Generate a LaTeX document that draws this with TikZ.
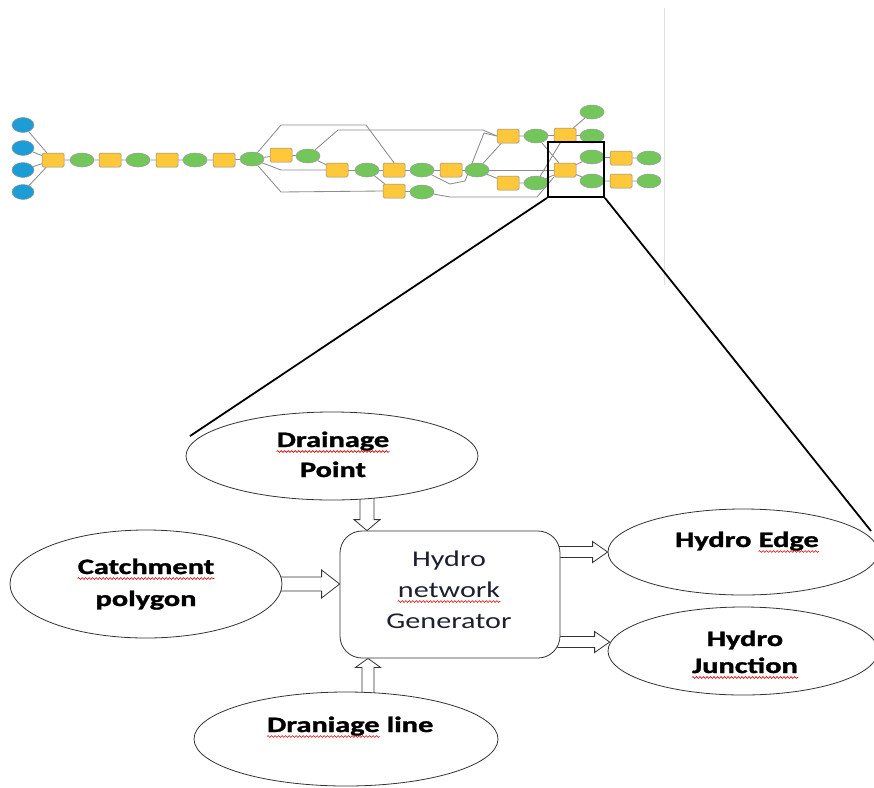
\documentclass[tikz,border=0pt]{standalone}
\usepackage{fontspec}
\setmainfont{Carlito}[BoldFeatures={FakeBold=1.2}]
\usepackage{graphicx}
\usetikzlibrary{shapes.geometric,calc,decorations.pathmorphing}
\pgfdeclarelayer{bg}
\pgfsetlayers{bg,main}
\definecolor{toolc}{HTML}{FFC83A}
\definecolor{datac}{HTML}{72C65A}
\definecolor{srcc}{HTML}{1C9DD6}
\definecolor{gentext}{HTML}{1E2030}
% the labels are set in a horizontally widened face
\newcommand\widebold[1]{\scalebox{1.38}[1]{#1}}
\newcommand\widereg[1]{\scalebox{1.34}[1]{#1}}

\begin{document}
\begin{tikzpicture}[x=1pt,y=-1pt,
  tool/.style={rectangle, rounded corners=1.5pt, draw=black!45, line width=0.5pt, fill=toolc,
    minimum width=22pt, minimum height=14pt, inner sep=0pt},
  data/.style={ellipse, draw=black!40, line width=0.5pt, fill=datac,
    minimum width=24pt, minimum height=14pt, inner sep=0pt},
  src/.style={ellipse, draw=black!40, line width=0.5pt, fill=srcc,
    minimum width=22pt, minimum height=15pt, inner sep=0pt},
  link/.style={draw=black!45, line width=0.85pt},
  big/.style={ellipse, draw=black!80, line width=0.8pt, fill=white, inner sep=0pt},
  lbl/.style={font=\bfseries\fontsize{22}{26}\selectfont, text=black, inner sep=0pt, anchor=base},
  genlbl/.style={font=\fontsize{22.5}{26}\selectfont, text=gentext, inner sep=0pt, anchor=base},
  spell/.style={draw=red!85!black, line width=0.6pt, decorate,
    decoration={snake, amplitude=0.9pt, segment length=3.5pt}},
  blockarrow/.style={draw=black!80, line width=0.8pt, fill=white, line join=miter},
  zoomline/.style={draw=black, line width=1.8pt}
]
\useasboundingbox (0,0) rectangle (874,787);
\begin{pgfonlayer}{bg}
\fill[white] (0,0) rectangle (874,787);
\end{pgfonlayer}

% thin page edge of the model window
\draw[black!12, line width=0.8pt] (664,8) -- (664,285);

% ---------------- processing model ----------------
\node[src] (b1) at (23,125) {};
\node[src] (b2) at (23,148) {};
\node[src] (b3) at (23,170) {};
\node[src] (b4) at (23,192) {};

\node[tool] (t1) at (53,160) {};
\node[data] (d1) at (82,160) {};
\node[tool] (t2) at (110,160) {};
\node[data] (d2) at (138,160) {};
\node[tool] (t3) at (167,160) {};
\node[data] (d3) at (195,160) {};
\node[tool] (t4) at (224,160) {};
\node[data] (d4) at (252,159) {};
\node[tool] (t5) at (281,155) {};
\node[data] (d5) at (308,156) {};
\node[tool] (t6) at (337,170) {};
\node[data] (d6) at (367,170) {};
\node[tool] (t7) at (394,170) {};
\node[data] (d7) at (422,170) {};
\node[tool] (t8) at (451,170) {};
\node[data] (d8) at (477,170) {};
\node[tool] (t9) at (394,191) {};
\node[data] (d9) at (422,192) {};
\node[tool] (t10) at (508,136) {};
\node[tool] (t11) at (508,183) {};
\node[data] (d10) at (536,136) {};
\node[data] (d11) at (536,183) {};
\node[tool] (t12) at (565,135) {};
\node[tool] (t13) at (565,170) {};
\node[data] (d12) at (592,112) {};
\node[data] (d13) at (592,136) {};
\node[data] (d14) at (592,157) {};
\node[data] (d15) at (592,181) {};
\node[tool] (t14) at (621,158) {};
\node[tool] (t15) at (621,181) {};
\node[data] (d16) at (649,158) {};
\node[data] (d17) at (649,181) {};

\begin{pgfonlayer}{bg}
\draw[link] (b1) -- (t1);
\draw[link] (b2) -- (t1);
\draw[link] (b3) -- (t1);
\draw[link] (b4) -- (t1);
\draw[link] (t1) -- (d1) -- (t2) -- (d2) -- (t3) -- (d3) -- (t4) -- (d4) -- (t5) -- (d5);
\draw[link] (d4) -- (281,125) -- (366,125) -- (t7.north);
\draw[link] (d4) -- (281,170) -- (t6.west);
\draw[link] (d4) -- (281,192) -- (t9.west);
\draw[link] (d5) -- (t6);
\draw[link] (d5) -- (338,130) -- (483,130) -- (t10.west);
\draw[link] (t6) -- (d6) -- (t7) -- (d7) -- (t8) -- (d8);
\draw[link] (d6) -- (t9) -- (d9);
\draw[link] (d7) -- (450,184) -- (465,181) -- (484,133) -- (t10.west);
\draw[link] (d8) -- (t10);
\draw[link] (d8) -- (t11) -- (d11);
\draw[link] (d8) -- (t13);
\draw[link] (d9) -- (450,197) -- (537,197) -- (t13.south west);
\draw[link] (t10) -- (d10) -- (t12);
\draw[link] (d10) -- (t13);
\draw[link] (d11) -- (t12);
\draw[link] (d11) -- (t13);
\draw[link] (t12) -- (d12);
\draw[link] (t12) -- (d13);
\draw[link] (t13) -- (d14) -- (t14) -- (d16);
\draw[link] (t13) -- (d15) -- (t15) -- (d17);
\end{pgfonlayer}

% zoom frame
\node[draw=black, line width=1.8pt, minimum width=56pt, minimum height=55pt, inner sep=0pt] (zoom) at (576,169.5) {};

% ---------------- detail view ----------------
\node[big, minimum width=292pt, minimum height=88pt] (dp) at (332,456) {};
\node[big, minimum width=272pt, minimum height=108pt] (cp) at (146,584) {};
\node[draw=black!80, line width=0.8pt, fill=white, rounded corners=22pt,
      minimum width=220pt, minimum height=127pt, inner sep=0pt] (gen) at (450,594.5) {};
\node[big, minimum width=270pt, minimum height=86pt] (he) at (743,552) {};
\node[big, minimum width=270pt, minimum height=88pt] (hj) at (743,651) {};
\node[big, minimum width=304pt, minimum height=94pt] (dl) at (346,739) {};

\node[lbl] (dpA) at (333,447) {\widebold{Drainage}};
\node[lbl] (dpB) at (333,477) {\widebold{Point}};
\node[lbl] (cpA) at (146,574) {\widebold{Catchment}};
\node[lbl] (cpB) at (146,606) {\widebold{polygon}};
\node[genlbl] (gA) at (449,566) {\widereg{Hydro}};
\node[genlbl] (gB) at (449,597) {\widereg{network}};
\node[genlbl] (gC) at (449,628) {\widereg{Generator}};
\node[lbl, anchor=base west] (heA) at (675,547) {\widebold{Hydro}};
\node[lbl, anchor=base west] (heB) at ($(heA.base east)+(6.9,0)$) {\widebold{Edge}};
\node[lbl] (hjA) at (745,646) {\widebold{Hydro}};
\node[lbl] (hjB) at (745,673) {\widebold{Junction}};
\node[lbl, anchor=base west] (dlA) at (267,732) {\widebold{Draniage}};
\node[lbl, anchor=base west] (dlB) at ($(dlA.base east)+(6.9,0)$) {\widebold{line}};

% spelling squiggles
\foreach \w in {dpA,cpA,gB,heB,hjB,dlA}
  \draw[spell] ($(\w.base west)+(0,4.5)$) -- ($(\w.base east)+(0,4.5)$);

% hollow block arrows between the parts
\begin{pgfonlayer}{bg}
\draw[blockarrow] let \p1=(cp.east), \p2=(gen.west) in
  (\x1-3pt,\y1+7pt) -- (\x2-18pt,\y1+7pt) -- (\x2-18pt,\y1+14pt) -- (\x2,\y1)
  -- (\x2-18pt,\y1-14pt) -- (\x2-18pt,\y1-7pt) -- (\x1-3pt,\y1-7pt);
\draw[blockarrow] let \p0=(367,0), \p1=(dp.south), \p2=(gen.north) in
  (\x0-7pt,\y1+3pt) -- (\x0-7pt,\y2+11pt) -- (\x0-13pt,\y2+11pt) -- (\x0,\y2)
  -- (\x0+13pt,\y2+11pt) -- (\x0+7pt,\y2+11pt) -- (\x0+7pt,\y1+3pt);
\draw[blockarrow] let \p0=(368,0), \p1=(dl.north), \p2=(gen.south) in
  (\x0-6pt,\y1-3pt) -- (\x0-6pt,\y2-9pt) -- (\x0-12.5pt,\y2-9pt) -- (\x0,\y2)
  -- (\x0+12.5pt,\y2-9pt) -- (\x0+6pt,\y2-9pt) -- (\x0+6pt,\y1-3pt);
\draw[blockarrow] let \p1=(gen.east), \p2=(he.west) in
  (\x1-3pt,\y2+5.5pt) -- (\x2-15pt,\y2+5.5pt) -- (\x2-15pt,\y2+10.5pt) -- (\x2,\y2)
  -- (\x2-15pt,\y2-10.5pt) -- (\x2-15pt,\y2-5.5pt) -- (\x1-3pt,\y2-5.5pt);
\draw[blockarrow] let \p1=(gen.east), \p2=(hj.west) in
  (\x1-3pt,\y2+14.5pt) -- (\x2-13pt,\y2+14.5pt) -- (\x2-13pt,\y2+19.5pt) -- (\x2+2pt,\y2+9pt)
  -- (\x2-13pt,\y2-1.5pt) -- (\x2-13pt,\y2+3.5pt) -- (\x1-3pt,\y2+3.5pt);
\end{pgfonlayer}

% lines of the zoom frame
\coordinate (zl) at (190,436);
\coordinate (zr) at (871,531);
\draw[zoomline] (zoom.south west) -- (zl);
\draw[zoomline] (zoom.south east) -- (zr);
\end{tikzpicture}
\end{document}
